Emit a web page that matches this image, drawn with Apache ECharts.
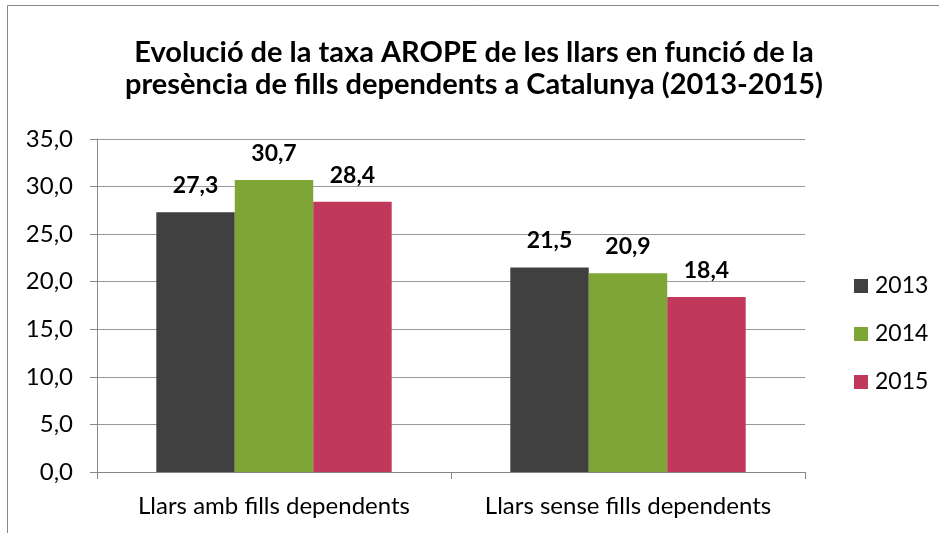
<!DOCTYPE html>
<html>
<head>
<meta charset="utf-8">
<script src="https://cdn.jsdelivr.net/npm/echarts@6/dist/echarts.min.js"></script>
<style>
html,body{margin:0;padding:0;background:#fff;}
#c{width:939px;height:533px;}
</style>
</head>
<body>
<div id="c"></div>
<script>
var titleText = "Evolució de la taxa AROPE de les llars en funció de la\npresència de fills dependents a Catalunya (2013-2015)";
var categories = ["Llars amb fills dependents", "Llars sense fills dependents"];
var seriesNames = ["2013", "2014", "2015"];
var values2013 = [27.3, 21.5];
var values2014 = [30.7, 20.9];
var values2015 = [28.4, 18.4];
var colors = ["#404040", "#7EA637", "#C0395A"];

var FONT = "Lato";
function fmt(v){ return Number(v).toFixed(1).replace('.', ','); }

var allValues = [values2013, values2014, values2015];
var series = seriesNames.map(function(name, i){
  return {
    name: name,
    type: 'bar',
    data: allValues[i],
    barGap: '0%',
    barCategoryGap: '33.5%',
    itemStyle: { color: colors[i] },
    label: {
      show: true,
      position: 'top',
      distance: 15,
      formatter: function(p){ return fmt(p.value); },
      fontFamily: FONT,
      fontWeight: 'bold',
      fontSize: 23,
      color: '#000'
    }
  };
});

var chart = echarts.init(document.getElementById('c'));
chart.setOption({
  animation: false,
  backgroundColor: '#fff',
  title: {
    text: titleText,
    left: 469,
    textAlign: 'center',
    top: 32,
    textStyle: { fontFamily: FONT, fontWeight: 'bold', fontSize: 29, lineHeight: 32, color: '#000' }
  },
  graphic: [{
    type: 'polyline',
    shape: { points: [[7.5, 533], [7.5, 5.5], [939, 5.5]] },
    style: { stroke: '#888', lineWidth: 1, fill: null },
    silent: true
  }],
  legend: {
    orient: 'vertical',
    left: 849,
    top: 269,
    itemWidth: 14,
    itemHeight: 14,
    itemGap: 24,
    icon: 'rect',
    data: seriesNames,
    textStyle: { fontFamily: FONT, fontSize: 23, lineHeight: 24, color: '#000', padding: [0,0,0,2] }
  },
  grid: { left: 97, right: 134, top: 139, bottom: 61, containLabel: false },
  xAxis: {
    type: 'category',
    data: categories,
    axisLine: { lineStyle: { color: '#888', width: 1 } },
    axisTick: { show: true, length: 7, lineStyle: { color: '#888' } },
    axisLabel: { interval: 0, hideOverlap: false, fontFamily: FONT, fontSize: 24, color: '#000', margin: 22 }
  },
  yAxis: {
    type: 'value',
    min: 0, max: 35, interval: 5,
    axisLine: { show: true, lineStyle: { color: '#888', width: 1 } },
    axisTick: { show: true, length: 7, lineStyle: { color: '#888' } },
    splitLine: { lineStyle: { color: '#999', width: 1 } },
    axisLabel: { fontFamily: FONT, fontSize: 24, color: '#000', margin: 24, formatter: function(v){ return fmt(v); } }
  },
  series: series
});
</script>
</body>
</html>
